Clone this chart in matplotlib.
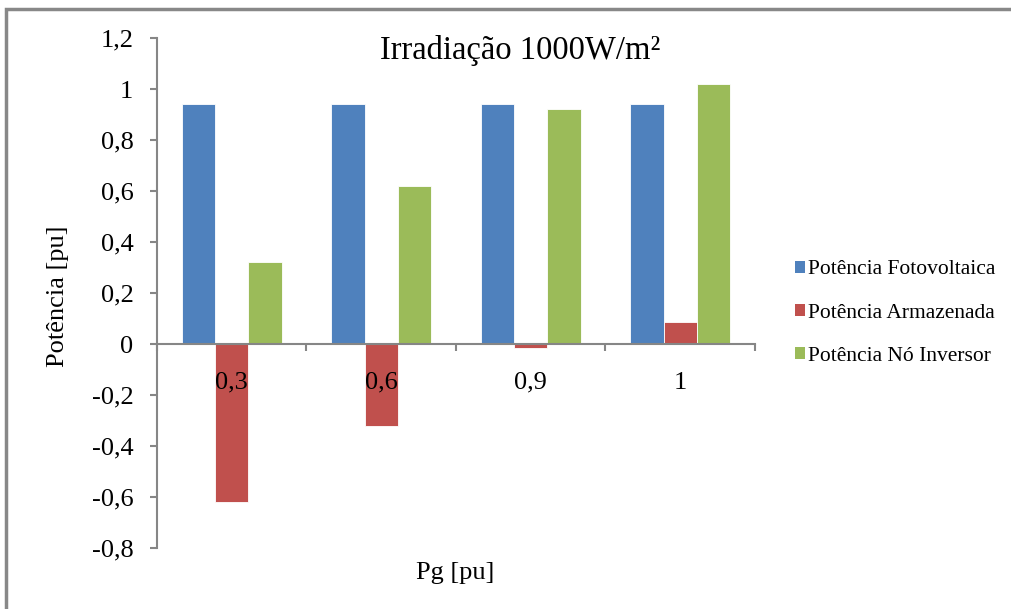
import matplotlib
matplotlib.use("Agg")
import matplotlib.pyplot as plt
import numpy as np
from matplotlib.patches import Patch, Rectangle
from matplotlib.ticker import FuncFormatter

plt.rcParams['font.family'] = ['Liberation Serif', 'DejaVu Serif']

categories = ["0,3", "0,6", "0,9", "1"]
fotovoltaica = [0.94, 0.94, 0.94, 0.94]
armazenada = [-0.62, -0.32, -0.015, 0.085]
no_inversor = [0.32, 0.62, 0.92, 1.02]
series_names = ["Potência Fotovoltaica", "Potência Armazenada", "Potência Nó Inversor"]
colors = ["#4F81BD", "#C0504D", "#9BBB59"]


def fmt(v, p):
    v = round(v, 1)
    if v == 0:
        return "0"
    return ("%g" % v).replace(".", ",")


fig = plt.figure(figsize=(10.12, 6.09), dpi=100)
ax = fig.add_axes([157 / 1012, 1 - 548 / 609, (755 - 157) / 1012, (548 - 38) / 609])

x = np.arange(len(categories))
w = 1 / 4.5  # gap width 150%
for i, (vals, c) in enumerate(zip([fotovoltaica, armazenada, no_inversor], colors)):
    ax.bar(x + (i - 1) * w, vals, width=w, color=c, edgecolor="white", linewidth=0.6, zorder=2)

ax.set_axisbelow(False)
ax.set_xlim(-0.5, len(categories) - 0.5)
ax.set_ylim(-0.8, 1.2)
ax.set_yticks(np.arange(-0.8, 1.21, 0.2))
ax.yaxis.set_major_formatter(FuncFormatter(fmt))

axis_color = "#868686"
for s in ["top", "right"]:
    ax.spines[s].set_visible(False)
ax.spines["bottom"].set_position(("data", 0))
ax.spines["bottom"].set_color(axis_color)
ax.spines["left"].set_color(axis_color)
ax.spines["bottom"].set_linewidth(1.5)
ax.spines["left"].set_linewidth(1.5)

ax.set_xticks(x)
ax.set_xticklabels(categories)
ax.set_xticks(np.arange(-0.5, len(categories), 1), minor=True)
ax.tick_params(axis="x", which="major", length=0, pad=20, labelsize=19)
ax.tick_params(axis="x", which="minor", length=5, width=1.5, color=axis_color, direction="out")
ax.tick_params(axis="y", length=5, width=1.5, color=axis_color, direction="out", labelsize=19, pad=12)

fig.text(520 / 1012, 1 - 50 / 609, "Irradiação 1000W/m²", ha="center", va="center", fontsize=23.5)
fig.text(58 / 1012, 1 - 296 / 609, "Potência [pu]", rotation=90, ha="center", va="center", fontsize=19)
fig.text(455 / 1012, 1 - 573 / 609, "Pg [pu]", ha="center", va="center", fontsize=19)

handles = [Patch(facecolor=c, edgecolor="none") for c in colors]
fig.legend(handles, series_names, loc="center left", bbox_to_anchor=(795 / 1012, 1 - 313 / 609),
           frameon=False, fontsize=15.5, handlelength=0.45, handleheight=0.45, handletextpad=0.15,
           labelspacing=1.12, borderpad=0, borderaxespad=0)

fig.patches.append(Rectangle((6 / 1012, -0.1), 1.2, 1 - 9 / 609 + 0.1, transform=fig.transFigure,
                             fill=False, edgecolor="#888888", linewidth=2.5))

fig.savefig("out.png", dpi=100)
